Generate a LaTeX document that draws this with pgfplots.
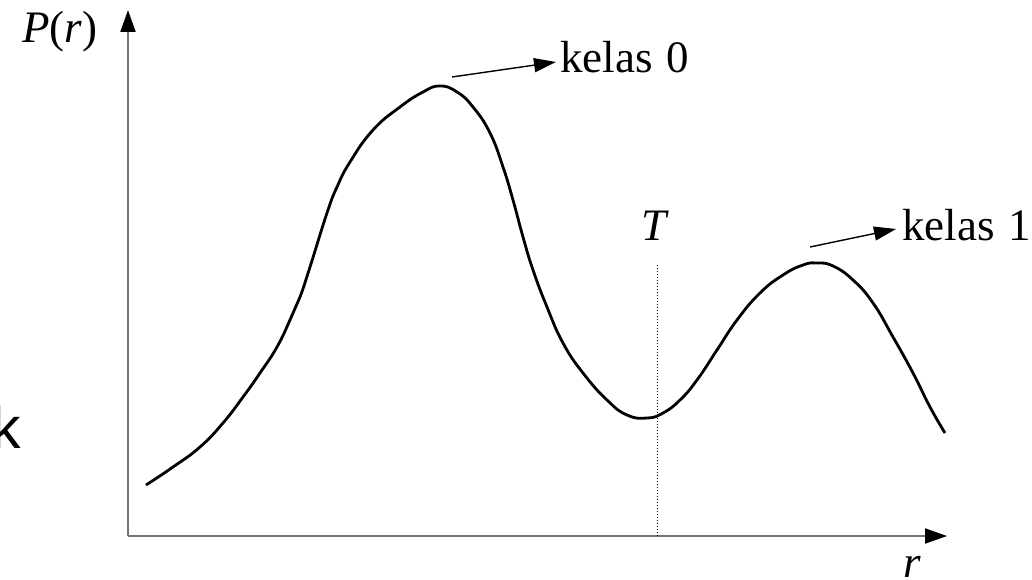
\documentclass[border=0pt]{standalone}
\usepackage{pgfplots}
\pgfplotsset{compat=1.18}
\usepackage{fontspec}
\setmainfont{Liberation Serif}
\newfontfamily\sansfont{Liberation Sans}
\usetikzlibrary{arrows.meta}
\begin{document}
\begin{tikzpicture}
\begin{axis}[
  scale only axis,
  width=409.5pt, height=263pt,
  xmin=128, xmax=947, ymin=43, ymax=569,
  axis lines=left,
  axis line style={draw=gray!90!black, line width=1pt, -{Triangle[length=11pt,width=7.5pt,color=black]}},
  xtick=\empty, ytick=\empty,
  clip=false,
]
\addplot[smooth, tension=0.8, line width=1.4pt, black] table {
x y
146 94
173 112
200 132
223 156
243 182
260 206
277 232
290 259
300 282
310 312
327 366
337 392
350 417
373 449
400 472
423 487
440 493
457 487
473 472
490 446
503 412
513 379
523 342
533 309
547 272
563 236
583 206
607 179
627 164
647 161
663 166
680 179
697 199
717 229
737 259
760 286
783 304
803 314
817 316
833 313
853 299
873 276
893 242
913 206
930 172
945 146
};
\addplot[densely dotted, line width=0.5pt, black] coordinates {(657,43) (657,315)};
\addplot[line width=0.7pt, black, -{Triangle[length=11pt,width=7pt]}] coordinates {(452,502) (556,517)};
\addplot[line width=0.7pt, black, -{Triangle[length=11pt,width=7pt]}] coordinates {(810,332) (896,350)};
\node[anchor=base west, inner sep=0, font=\fontsize{22.5}{27}\selectfont] at (axis cs:22,536) {\textit{P}(\textit{r})};
\node[anchor=base west, inner sep=0, font=\fontsize{22.5}{27}\selectfont] at (axis cs:560,506) {kelas\hspace{7pt}0};
\node[anchor=base west, inner sep=0, font=\fontsize{22.5}{27}\selectfont] at (axis cs:902,339) {kelas\hspace{7pt}1};
\node[anchor=base, inner sep=0, font=\fontsize{22.5}{27}\selectfont] at (axis cs:655,339) {\textit{T}};
\node[anchor=base west, inner sep=0, font=\fontsize{22.5}{27}\selectfont] at (axis cs:903,2) {\textit{r}};
\node[anchor=base east, inner sep=0, font=\sansfont\fontsize{29.5}{34}\selectfont] at (axis cs:21,131) {k};
\coordinate (bl) at (axis cs:0,0);
\coordinate (tr) at (axis cs:1032,579);
\end{axis}
\pgfresetboundingbox
\useasboundingbox (bl) rectangle (tr);
\end{tikzpicture}
\end{document}
